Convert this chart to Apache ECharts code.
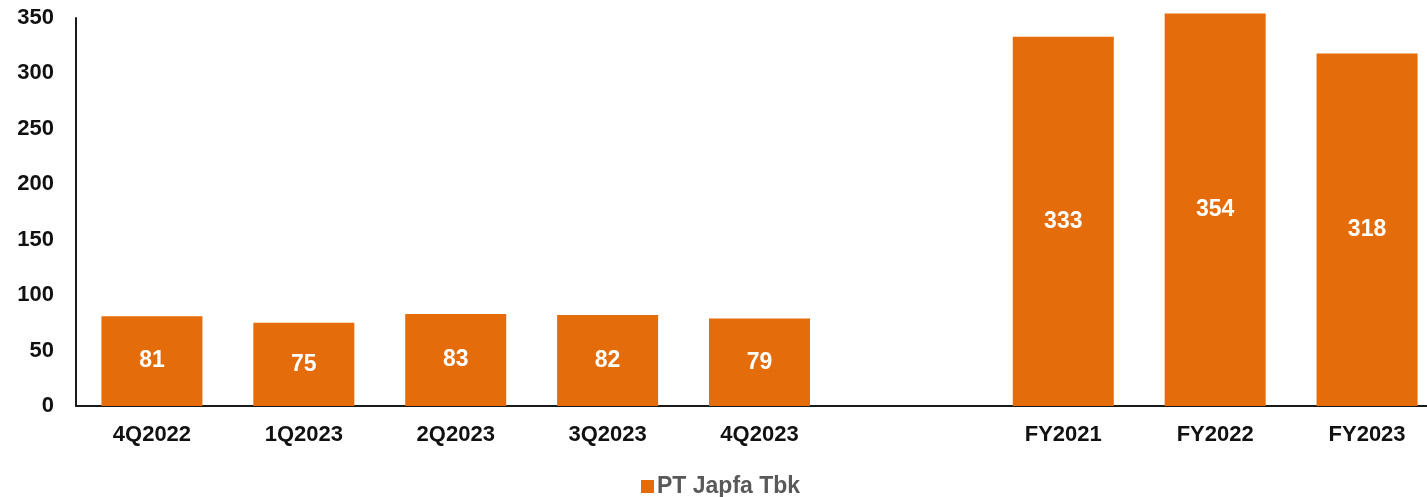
<!DOCTYPE html>
<html>
<head>
<meta charset="utf-8">
<script src="https://cdn.jsdelivr.net/npm/echarts@6/dist/echarts.min.js"></script>
<style>
  html, body { margin: 0; padding: 0; background: #fff; }
  #chart-container { width: 1427px; height: 497px; }
</style>
</head>
<body>
<div id="chart-container"></div>
<script>
// categories, with one empty slot between quarters and full years
const categories = ['4Q2022', '1Q2023', '2Q2023', '3Q2023', '4Q2023', '', 'FY2021', 'FY2022', 'FY2023'];
const japfaValues = [81, 75, 83, 82, 79, null, 333, 354, 318];
const seriesName = 'PT Japfa Tbk';

const chart = echarts.init(document.querySelector('#chart-container'), null, { renderer: 'canvas' });

chart.setOption({
    animation: false,
    textStyle: { fontFamily: 'Liberation Sans, Arial, sans-serif' },
    grid: { left: 76, top: 18, bottom: 91, right: -16, containLabel: false, outerBoundsMode: 'none' },
    legend: {
        data: [seriesName],
        left: 636,
        top: 470,
        icon: 'rect',
        itemWidth: 13,
        itemHeight: 13,
        itemGap: 4,
        textStyle: { color: '#595959', fontWeight: 'bold', fontSize: 23, padding: [0, 0, 0, -2] }
    },
    xAxis: {
        type: 'category',
        data: categories,
        axisLine: { lineStyle: { color: '#1a1a1a', width: 2 } },
        axisTick: { show: false },
        axisLabel: { color: '#111', fontWeight: 'bold', fontSize: 22, margin: 18, interval: 0 }
    },
    yAxis: {
        type: 'value',
        min: 0,
        max: 350,
        interval: 50,
        axisLine: { show: true, lineStyle: { color: '#1a1a1a', width: 2 } },
        axisTick: { show: false },
        splitLine: { show: false },
        axisLabel: { color: '#111', fontWeight: 'bold', fontSize: 22, margin: 22 }
    },
    series: [{
        name: seriesName,
        type: 'bar',
        data: japfaValues,
        barWidth: 101,
        clip: false,
        itemStyle: { color: '#E46C0A' },
        label: {
            show: true,
            position: 'inside',
            color: '#fff',
            fontWeight: 'bold',
            fontSize: 23
        }
    }]
});
</script>
</body>
</html>
